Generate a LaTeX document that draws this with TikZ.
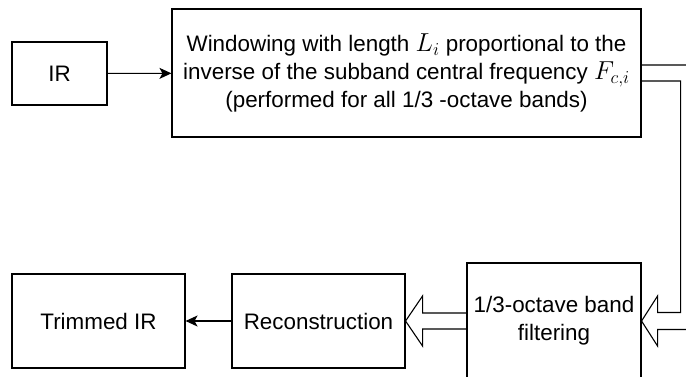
\RequirePackage{fix-cm}
\documentclass[tikz,border=0pt]{standalone}
\usepackage{fontspec}
\setmainfont{Liberation Sans}
\usetikzlibrary{arrows.meta,calc}
\newcommand{\bigmath}[1]{{\fontsize{26}{28}\selectfont$#1$}}
\begin{document}
\begin{tikzpicture}[x=1pt,y=-1pt,
  box/.style={draw, line width=1.1pt, align=center, inner sep=0pt,
    font=\fontsize{22.4}{28}\selectfont},
  hollow/.style={draw, line width=1.1pt, line join=miter},
  link/.style={line width=1.1pt, -{Stealth[length=12pt,width=11pt,inset=3pt]}}]
\useasboundingbox (0,0) rectangle (686,376);
\clip (0,0) rectangle (686,376);

% blocks
\node[box, minimum width=95pt, minimum height=63pt] (ir) at (59.5,73.5) {IR};
\node[box, minimum width=469pt, minimum height=128pt] (win) at (406.5,73)
  {Windowing with length \bigmath{L_i} proportional to the\\
   inverse of the subband central frequency \bigmath{F_{c,i}}\\
   (performed for all 1/3 -octave bands)};
\node[box, minimum width=174pt, minimum height=116pt] (filt) at (554,321)
  {1/3-octave band\\filtering};
\node[box, minimum width=173pt, minimum height=94pt] (recon) at (318.5,321)
  {Reconstruction};
\node[box, minimum width=173pt, minimum height=94pt] (trim) at (98.5,321)
  {Trimmed IR};

% plain connectors
\draw[link] (ir) -- (win);
\draw[link] (recon) -- (trim);

% wide hollow arrow: windowing -> filtering (runs past the right edge)
\draw[hollow]
  ($(win.east)+(0,-8)$) -- ($(win.east)+(55,-8)$) |- ($(filt.east)+(16,8.5)$)
  -- ($(filt.east)+(16,25)$) -- (filt.east) -- ($(filt.east)+(16,-25)$)
  -- ($(filt.east)+(16,-8.5)$) -| ($(win.east)+(39,8)$) -- ($(win.east)+(0,8)$);

% wide hollow arrow: filtering -> reconstruction
\draw[hollow]
  ($(filt.west)+(0,-8)$) -- ($(recon.east)+(17,-8)$) -- ($(recon.east)+(17,-25)$)
  -- (recon.east) -- ($(recon.east)+(17,25)$) -- ($(recon.east)+(17,8)$)
  -- ($(filt.west)+(0,8)$);
\end{tikzpicture}
\end{document}
